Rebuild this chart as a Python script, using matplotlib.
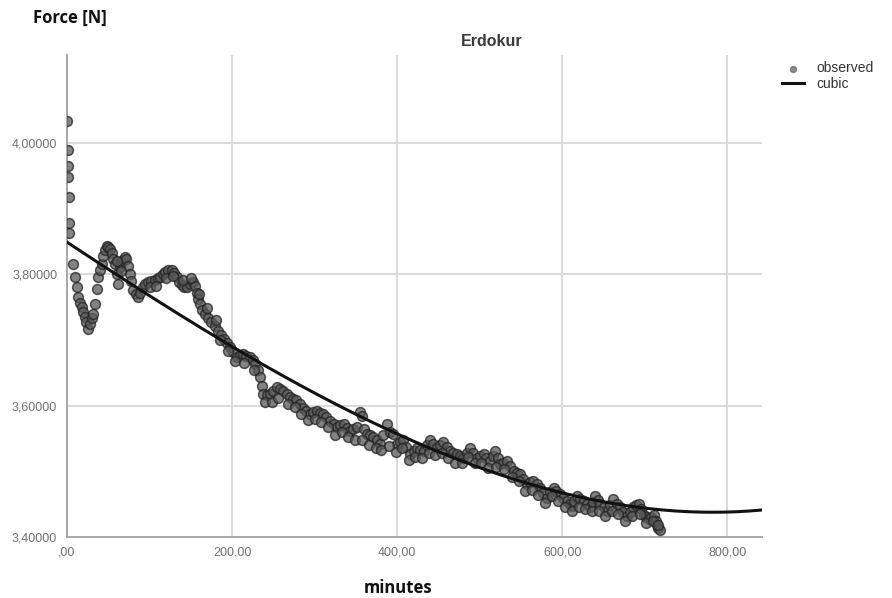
import numpy as np
import matplotlib.pyplot as plt
from matplotlib.ticker import FuncFormatter

minutes = [0.5, 0.8, 1, 1.5, 2, 2.5, 3, 7.7, 9.7, 11.7, 13.7, 15.5, 17.8, 19.5, 21.8, 23.5, 25.9, 28, 30,
           31.9, 33.9, 36, 37.9, 40, 42, 44, 46, 48, 50, 52, 54, 56, 58, 60, 62, 64, 66, 68, 70, 72, 74, 76,
           78, 80, 83, 86.4, 89, 92.5, 95, 98.5, 102, 106.7, 110, 112.7, 116, 118.8, 122, 126.9, 130, 133,
           136, 139, 142, 145, 149, 153, 155, 157, 159, 161, 164, 167, 171, 175, 179, 183, 187, 190, 194,
           197.6, 201, 205.7, 209, 213.7, 217, 221.8, 225, 228, 231, 234, 236, 238, 242, 246, 250, 254, 258,
           262, 266, 270, 274, 278, 282, 286, 290, 294.5, 298, 302.6, 306, 310.7, 314, 318.8, 323, 327, 331,
           335, 339, 343, 347, 351, 355, 357, 360, 363, 367, 371, 375, 379, 383, 387.5, 391.5, 395.5, 399.6,
           403, 407.6, 411, 415.8, 420, 424, 428, 432, 436, 440, 444, 448, 452, 456, 460, 464, 468, 472, 476,
           480, 484, 488.5, 492, 496.6, 500, 504.6, 508, 512.7, 516, 518.8, 522, 524.8, 528, 533, 537, 541,
           545, 549, 553, 557, 561, 565, 569, 573, 577, 581.5, 585, 589.5, 593, 597.6, 601, 605.7, 609,
           611.7, 614, 617.8, 622, 625.8, 630, 634, 637, 640, 643, 646, 650, 654, 658, 662, 666, 670, 674,
           678, 682, 686, 689, 692.5, 695, 698.5, 701, 704.6, 707, 710.6, 713, 714.7, 716, 718.8,
           185, 195, 203, 215, 226, 240, 248, 256, 268, 276, 284, 292, 300, 308, 316, 325, 333, 341, 349,
           358, 366, 374, 381, 390, 398, 406, 414, 422, 430, 438, 446, 454, 462, 470, 478, 486, 494, 502,
           510, 520, 530, 539, 547, 555, 563, 571, 579, 587, 595, 603, 612, 620, 628, 636, 644, 652, 660,
           668, 676, 684, 694, 702, 710, 716,
           60, 66, 100, 108, 120, 128, 140, 150, 160, 170, 180]
force = [4.034, 3.989, 3.965, 3.948, 3.918, 3.878, 3.863, 3.816, 3.796, 3.781, 3.765, 3.757, 3.750, 3.742,
         3.735, 3.727, 3.717, 3.725, 3.733, 3.740, 3.755, 3.778, 3.796, 3.806, 3.816, 3.828, 3.837, 3.843,
         3.842, 3.838, 3.832, 3.824, 3.816, 3.800, 3.786, 3.811, 3.818, 3.822, 3.826, 3.824, 3.812, 3.801,
         3.790, 3.776, 3.770, 3.765, 3.772, 3.781, 3.785, 3.788, 3.790, 3.791, 3.794, 3.796, 3.800, 3.803,
         3.806, 3.806, 3.802, 3.796, 3.789, 3.783, 3.781, 3.781, 3.786, 3.788, 3.782, 3.771, 3.762, 3.755,
         3.746, 3.740, 3.733, 3.727, 3.722, 3.714, 3.708, 3.702, 3.695, 3.689, 3.682, 3.674, 3.677, 3.679,
         3.676, 3.674, 3.669, 3.664, 3.654, 3.643, 3.630, 3.618, 3.616, 3.618, 3.623, 3.628, 3.625, 3.623,
         3.618, 3.613, 3.610, 3.608, 3.602, 3.597, 3.592, 3.587, 3.590, 3.592, 3.589, 3.587, 3.582, 3.577,
         3.572, 3.567, 3.570, 3.572, 3.566, 3.562, 3.565, 3.567, 3.590, 3.585, 3.565, 3.557, 3.555, 3.552,
         3.547, 3.542, 3.556, 3.572, 3.560, 3.557, 3.542, 3.545, 3.547, 3.537, 3.526, 3.531, 3.536, 3.533,
         3.531, 3.540, 3.547, 3.541, 3.536, 3.540, 3.544, 3.537, 3.531, 3.528, 3.526, 3.523, 3.521, 3.528,
         3.536, 3.528, 3.521, 3.523, 3.526, 3.521, 3.516, 3.524, 3.531, 3.520, 3.511, 3.513, 3.516, 3.508,
         3.501, 3.498, 3.496, 3.488, 3.480, 3.483, 3.486, 3.480, 3.475, 3.467, 3.460, 3.468, 3.475, 3.470,
         3.465, 3.460, 3.455, 3.450, 3.447, 3.455, 3.462, 3.458, 3.455, 3.450, 3.445, 3.454, 3.462, 3.456,
         3.450, 3.445, 3.440, 3.449, 3.458, 3.451, 3.445, 3.438, 3.432, 3.438, 3.445, 3.448, 3.450, 3.442,
         3.434, 3.430, 3.427, 3.430, 3.434, 3.425, 3.419, 3.414, 3.411,
         3.700, 3.684, 3.668, 3.665, 3.655, 3.605, 3.606, 3.612, 3.603, 3.598, 3.588, 3.578, 3.580, 3.575,
         3.568, 3.556, 3.560, 3.552, 3.548, 3.548, 3.540, 3.536, 3.532, 3.538, 3.530, 3.535, 3.518, 3.522,
         3.520, 3.528, 3.525, 3.528, 3.520, 3.513, 3.512, 3.522, 3.512, 3.513, 3.505, 3.506, 3.503, 3.492,
         3.485, 3.470, 3.472, 3.464, 3.452, 3.462, 3.455, 3.446, 3.440, 3.446, 3.442, 3.440, 3.440, 3.432,
         3.440, 3.435, 3.425, 3.432, 3.435, 3.422, 3.424, 3.418,
         3.820, 3.805, 3.780, 3.782, 3.795, 3.797, 3.792, 3.795, 3.770, 3.748, 3.730]

# cubic model coefficients (in powers of minutes/200)
cubic_coef = [3.849, -0.16625, 0.004375, 0.002875]

x_ticks = [0, 200, 400, 600, 800]
y_ticks = [3.4, 3.6, 3.8, 4.0]

fig = plt.figure(figsize=(8.92, 5.98), dpi=100)
ax = fig.add_axes([67 / 892, 1 - 537 / 598, (762 - 67) / 892, (537 - 55) / 598])

ax.scatter(minutes, force, s=50, facecolor='#5a5a5a', edgecolor='#222222',
           linewidths=1.1, alpha=0.75, zorder=3, label='observed')

t = np.linspace(0, 842, 400)
u = t / 200
fit = cubic_coef[0] + cubic_coef[1] * u + cubic_coef[2] * u**2 + cubic_coef[3] * u**3
ax.plot(t, fit, color='#111111', lw=2.2, zorder=4, label='cubic')

ax.set_xlim(0, 842)
ax.set_ylim(3.4, 4.134)
ax.set_xticks(x_ticks)
ax.set_yticks(y_ticks)

def xfmt(v, pos):
    s = '{:.2f}'.format(v).replace('.', ',')
    return s[1:] if s.startswith('0') else s

ax.xaxis.set_major_formatter(FuncFormatter(xfmt))
ax.yaxis.set_major_formatter(FuncFormatter(lambda v, p: '{:.5f}'.format(v).replace('.', ',')))

ax.grid(True, color='#dadada', lw=1.4)
ax.set_axisbelow(True)
for side in ['top', 'right']:
    ax.spines[side].set_visible(False)
for side in ['left', 'bottom']:
    ax.spines[side].set_color('#a8a8a8')
    ax.spines[side].set_linewidth(1.4)
ax.tick_params(length=0, colors='#707070', labelsize=9, pad=7)
for lab in ax.get_xticklabels() + ax.get_yticklabels():
    lab.set_family('Liberation Sans')

fig.text(33 / 892, 1 - 18 / 598, 'Force [N]', fontsize=12, fontweight='bold',
         family='Open Sans', va='center', ha='left', color='#111111')
fig.text(398 / 892, 1 - 588 / 598, 'minutes', fontsize=12, fontweight='bold',
         family='Open Sans', va='center', ha='center', color='#111111')
fig.text(492 / 892, 1 - 42 / 598, 'Erdokur', fontsize=11.5, fontweight='bold',
         family='Liberation Sans', va='center', ha='center', color='#3a3a3a')

leg = ax.legend(loc='upper left', bbox_to_anchor=(762 / 892 + 0.008, 1 - 49 / 598),
                bbox_transform=fig.transFigure, frameon=False, markerscale=0.6,
                handlelength=1.6, handletextpad=0.9, labelspacing=0.1,
                prop={'family': 'Liberation Sans', 'size': 10})
leg.legend_handles[0].set_edgecolor('#6a6a6a')
leg.legend_handles[0].set_facecolor('#6a6a6a')
for txt in leg.get_texts():
    txt.set_color('#333333')

fig.savefig('out.png', dpi=100)
